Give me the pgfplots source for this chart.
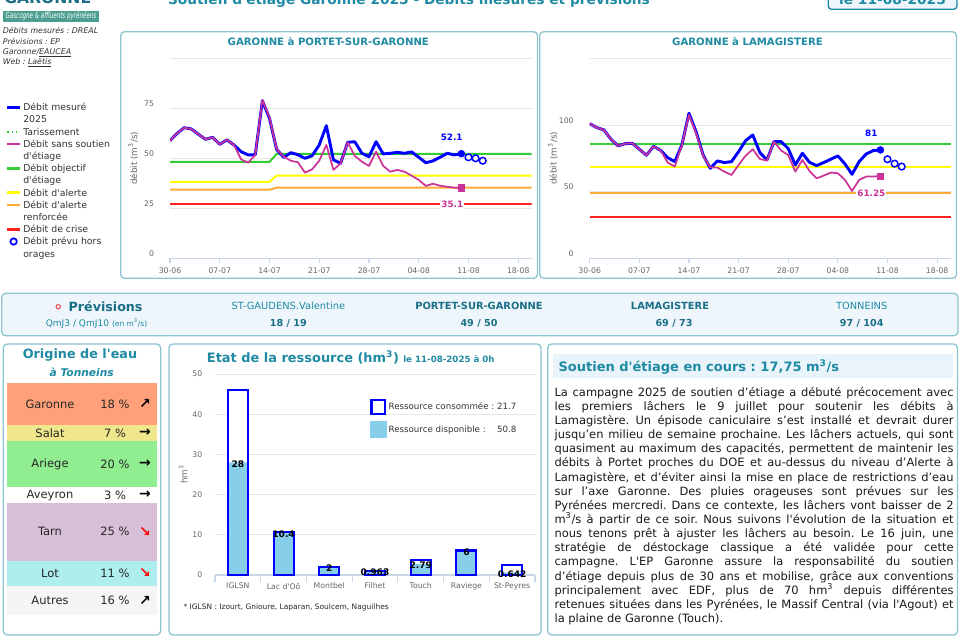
\documentclass[border=0pt]{standalone}
\usepackage{fontspec}
\setmainfont{DejaVu Sans}
\usepackage{graphicx}
\usepackage{pgfplots}
\pgfplotsset{compat=1.18}

\definecolor{titre}{HTML}{1E8AA4}
\definecolor{titre2}{HTML}{1A6F86}
\definecolor{cadre}{HTML}{8CC4D2}
\definecolor{grille}{HTML}{E6E6E6}
\definecolor{axe}{HTML}{CCD6EB}
\definecolor{gris}{HTML}{666666}
\definecolor{texte}{HTML}{333333}
\definecolor{mesure}{HTML}{0000FF}
\definecolor{sans}{HTML}{CC3399}
\definecolor{doe}{HTML}{33CC33}
\definecolor{alerte}{HTML}{FFFF00}
\definecolor{alerter}{HTML}{FFAA33}
\definecolor{crise}{HTML}{FF2222}
\definecolor{dispo}{HTML}{87CEEB}
\definecolor{fondbleu}{HTML}{EEF6FB}
\definecolor{bandeau}{HTML}{E8F3FA}
\definecolor{logo}{HTML}{4C9F8F}
\definecolor{cGaronne}{HTML}{FFA07A}
\definecolor{cSalat}{HTML}{F0E68C}
\definecolor{cAriege}{HTML}{90EE90}
\definecolor{cTarn}{HTML}{D8BFD8}
\definecolor{cLot}{HTML}{AFEEEE}
\definecolor{cAutres}{HTML}{F5F5F5}

\newcommand{\fs}[2]{\fontsize{#1}{#2}\selectfont}
\newcommand{\q}{\textquotesingle}
\newcommand{\cube}{\textsuperscript{3}}
\newcommand{\ligne}[1]{\hbox to \hsize{#1}}

\pgfplotsset{
  debit/.style={
    scale only axis, height=150pt, ymin=0, xmin=0,
    axis x line*=bottom, axis y line*=left,
    x axis line style={draw=axe, line width=0.8pt},
    y axis line style={draw=none},
    ytick style={draw=none},
    xtick style={draw=axe, line width=0.8pt},
    tick align=outside, major tick length=3.5pt,
    xtick={0,7,14,21,28,35,42,49},
    xticklabels={30-06,07-07,14-07,21-07,28-07,04-08,11-08,18-08},
    ymajorgrids, grid style={grille, line width=0.6pt},
    tick label style={font=\fs{5.8}{7}, text=gris},
    yticklabel style={xshift=-5pt, yshift=3.5pt},
    /pgf/number format/assume math mode=true,
    ylabel={débit (m\cube/s)},
    every axis y label/.style={at={(axis description cs:-0.1015,0.5)}, rotate=90, anchor=center, font=\fs{6.6}{8}, text=gris},
  },
  lbl/.style={point meta=explicit symbolic, nodes near coords,
    every node near coord/.append style={font=\bfseries\fs{6.6}{8}, text=#1, anchor=center}},
  seuil/.style={line width=1.5pt, line join=round},
}

\begin{document}
\frenchspacing
\begin{tikzpicture}[x=0.75pt,y=0.75pt]
\useasboundingbox (0,0) rectangle (960,-640);
\fill[white] (0,0) rectangle (960,-640);
\clip (0,0) rectangle (960,-640);

% ---- en-tete
\node[anchor=base west, font=\bfseries\fs{11.7}{13}, text=titre2, inner sep=0pt] at (4,-3) {GARONNE};
\fill[logo] (2.7,-11) rectangle (99.3,-21.7);
\node[text=white, inner sep=0pt] at (51,-16.4) {\resizebox{68pt}{5pt}{\itshape Gascogne \& affluents pyrénéens}};
\node[anchor=base, font=\bfseries\fs{10.3}{12}, text=titre, inner sep=0pt] at (409,-4) {Soutien d\q étiage Garonne 2025 - Débits mesurés et prévisions};
\draw[titre, line width=1pt, fill=fondbleu, rounded corners=2.5pt] (828.3,6) rectangle (957,-9.3);
\node[anchor=base, font=\bfseries\fs{10.3}{12}, text=titre, inner sep=0pt] at (892.5,-4) {le 11-08-2025};

% ---- sources
\begin{scope}[every node/.style={anchor=base west, font=\itshape\fs{5.9}{7}, text=texte, inner sep=0pt}]
\node at (2.5,-33.8) {Débits mesurés : DREAL};
\node at (2.5,-44.1) {Prévisions : EP};
\node at (2.5,-54.4) {Garonne/\underline{EAUCEA}};
\node at (2.5,-64.7) {Web : \underline{Laëtis}};
\end{scope}

% ---- legende des debits
\begin{scope}[every node/.style={anchor=base west, font=\fs{7}{8}, text=texte, inner sep=0pt}]
\draw[mesure, line width=2pt] (7.3,-107.3) -- (20,-107.3);
\node at (23,-110.6) {Débit mesuré};
\node at (23,-122.8) {2025};
\draw[doe, line width=1.2pt, dotted] (7.3,-131.7) -- (20,-131.7);
\node at (23,-135) {Tarissement};
\draw[sans, line width=2pt] (7.3,-143.9) -- (20,-143.9);
\node at (23,-147.2) {Débit sans soutien};
\node at (23,-159.4) {d\q étiage};
\draw[doe, line width=2pt] (7.3,-168.3) -- (20,-168.3);
\node at (23,-171.6) {Débit objectif};
\node at (23,-183.8) {d\q étiage};
\draw[alerte, line width=2pt] (7.3,-192.7) -- (20,-192.7);
\node at (23,-196) {Débit d\q alerte};
\draw[alerter, line width=2pt] (7.3,-204.9) -- (20,-204.9);
\node at (23,-208.2) {Débit d\q alerte};
\node at (23,-220.4) {renforcée};
\draw[crise, line width=2pt] (7.3,-229.3) -- (20,-229.3);
\node at (23,-232.6) {Débit de crise};
\draw[mesure, line width=1.3pt, fill=white] (13.6,-241.5) circle (3.2);
\node at (23,-244.8) {Débit prévu hors};
\node at (23,-257) {orages};
\end{scope}

% ---- cadres
\draw[cadre, line width=1pt, rounded corners=3pt] (120.7,-31.7) rectangle (537.5,-278.3);
\draw[cadre, line width=1pt, rounded corners=3pt] (539.7,-31.7) rectangle (956.5,-278.3);
\draw[cadre, line width=0.9pt, fill=fondbleu, rounded corners=3pt] (1.7,-293.3) rectangle (958,-335.7);
\draw[cadre, line width=1pt, rounded corners=3pt] (3.3,-344) rectangle (160.7,-635);
\draw[cadre, line width=1pt, rounded corners=3pt] (169,-344) rectangle (541,-635);
\draw[cadre, line width=1pt, rounded corners=3pt] (547.7,-344) rectangle (957.5,-635);

\node[font=\bfseries\fs{7.6}{9}, text=titre] at (328.3,-41.7) {GARONNE à PORTET-SUR-GARONNE};
\node[font=\bfseries\fs{7.6}{9}, text=titre] at (747.5,-41.7) {GARONNE à LAMAGISTERE};

% ---- Portet
\begin{axis}[debit, at={(127.5pt,-193.725pt)}, anchor=south west, width=271.3pt,
  xmax=50.9, ymax=100, ytick={0,25,50,75,100}, yticklabels={0,25,50,75,}]
\addplot[crise, seuil] coordinates {(0,27.4) (50.9,27.4)};
\addplot[alerter, seuil] coordinates {(0,34.3) (14,34.3) (15,35.3) (50.9,35.3)};
\addplot[alerte, seuil] coordinates {(0,38.2) (14,38.2) (15,41.3) (50.9,41.3)};
\addplot[doe, seuil] coordinates {(0,48.2) (14,48.2) (15,52.2) (50.9,52.2)};
\addplot[mesure, line width=2.2pt, line join=round] coordinates {
 (0,58.8) (1,62.5) (2,65.3) (3,64.7) (4,62) (5,59.5) (6,60.5) (7,57) (8,59.2) (9,56.7)
 (10,53.3) (11,51.7) (12,51.8) (13,78.8) (14,70) (15,54.5) (16,50.5) (17,52.8) (18,51.8) (19,50)
 (20,51.3) (21,56.7) (22,66.3) (23,49.2) (24,47.5) (25,58) (26,58.3) (27,52.5) (28,50.8) (29,58.3)
 (30,52.2) (31,52.5) (32,53) (33,52.5) (34,53.2) (35,50.5) (36,47.8) (37,48.7) (38,50.5) (39,52.5)
 (40,51.7) (41,52.3)};
\addplot[sans, line width=1.3pt, line join=round] coordinates {
 (0,58.8) (1,62.5) (2,65.3) (3,64.7) (4,62) (5,59.5) (6,60.5) (7,57) (8,59.2) (9,56.7)
 (10,49.5) (11,47.8) (12,51.7) (13,79.2) (14,70.5) (15,54.7) (16,50.8) (17,48.8) (18,48) (19,42.8)
 (20,44.5) (21,48.8) (22,56.7) (23,44.2) (24,47.5) (25,58) (26,51.2) (27,48.3) (28,46.2) (29,53.3)
 (30,46.2) (31,43.3) (32,44.2) (33,43.3) (34,41.3) (35,39.2) (36,36.2) (37,37.3) (38,36.3) (39,35.8)
 (40,35.3) (41,35.3)};
\addplot[mesure, only marks, mark=*, mark size=2.6pt, lbl=mesure,
  every node near coord/.append style={xshift=-7.3pt, yshift=12.3pt}] coordinates {(41,52.3) [52.1]};
\addplot[sans, only marks, mark=square*, mark size=2.3pt, lbl=sans,
  every node near coord/.append style={fill=white, inner sep=0.8pt, xshift=-6.8pt, yshift=-12.5pt}] coordinates {(41,35.3) [35.1]};
\addplot[only marks, mark=*, mark size=2.5pt, mark options={draw=mesure, fill=white, line width=1.1pt}]
  coordinates {(42,50.5) (43,50) (44,48.8)};
\end{axis}

% ---- Lamagistere
\begin{axis}[debit, at={(442.275pt,-193.725pt)}, anchor=south west, width=271.2pt,
  xmax=51, ymax=150, ytick={0,50,100,150}, yticklabels={0,50,100,}]
\addplot[crise, seuil] coordinates {(0,31.2) (51,31.2)};
\addplot[alerter, seuil] coordinates {(0,49.3) (51,49.3)};
\addplot[alerte, seuil] coordinates {(0,68.5) (51,68.5)};
\addplot[doe, seuil] coordinates {(0,85.5) (51,85.5)};
\addplot[mesure, line width=2.2pt, line join=round] coordinates {
 (0,101) (1,98) (2,96.3) (3,89.3) (4,84.3) (5,86) (6,86.3) (7,81.8) (8,77.3) (9,84)
 (10,81) (11,75.5) (12,72.5) (13,85) (14,108.8) (15,95) (16,77.5) (17,67.5) (18,73) (19,71.8)
 (20,72.5) (21,80) (22,88.3) (23,92.5) (24,79.3) (25,73.8) (26,87.5) (27,87.5) (28,82.3) (29,70)
 (30,78.8) (31,72) (32,69.5) (33,71.8) (34,74.3) (35,76.8) (36,70.8) (37,63) (38,72.5) (39,78.3)
 (40,80.8) (41,81.3)};
\addplot[sans, line width=1.3pt, line join=round] coordinates {
 (0,101) (1,98) (2,96.3) (3,89.3) (4,84.3) (5,86) (6,86.3) (7,81.8) (8,77.3) (9,84)
 (10,81) (11,71.8) (12,68.8) (13,85) (14,107.5) (15,93.8) (16,76.8) (17,68.3) (18,68) (19,65)
 (20,62.5) (21,70) (22,77) (23,81.8) (24,74.5) (25,73.3) (26,87.5) (27,80.8) (28,77.5) (29,65)
 (30,73.8) (31,65.5) (32,60) (33,62) (34,64.3) (35,63.8) (36,58.8) (37,50.5) (38,58.8) (39,61.3)
 (40,61.3) (41,61.8)};
\addplot[mesure, only marks, mark=*, mark size=2.6pt, lbl=mesure,
  every node near coord/.append style={xshift=-6.8pt, yshift=12.4pt}] coordinates {(41,81.3) [81]};
\addplot[sans, only marks, mark=square*, mark size=2.3pt, lbl=sans,
  every node near coord/.append style={fill=white, inner sep=0.8pt, xshift=-6.8pt, yshift=-13pt}] coordinates {(41,61.8) [61.25]};
\addplot[only marks, mark=*, mark size=2.5pt, mark options={draw=mesure, fill=white, line width=1.1pt}]
  coordinates {(42,74.3) (43,71) (44,68.8)};
\end{axis}

% ---- bandeau previsions
\draw[sans!60!orange, line width=0.8pt] (58.3,-306.7) circle (2.2);
\node[font=\bfseries\fs{9.5}{11}, text=titre2] at (105.6,-306.7) {Prévisions};
\node[font=\fs{6.8}{8}, text=titre] at (96.5,-323.3) {QmJ3 / QmJ10 {\fs{5.6}{7}(en m\cube/s)}};
\node[font=\fs{7.4}{9}, text=titre] at (288.3,-306.2) {ST-GAUDENS.Valentine};
\node[font=\bfseries\fs{7.2}{9}, text=titre2] at (288.3,-323.3) {18 / 19};
\node[font=\bfseries\fs{7.4}{9}, text=titre2] at (479,-306.2) {PORTET-SUR-GARONNE};
\node[font=\bfseries\fs{7.2}{9}, text=titre2] at (479,-323.3) {49 / 50};
\node[font=\bfseries\fs{7.4}{9}, text=titre2] at (670,-306.2) {LAMAGISTERE};
\node[font=\bfseries\fs{7.2}{9}, text=titre2] at (674,-323.3) {69 / 73};
\node[font=\fs{7.4}{9}, text=titre] at (861.7,-306.2) {TONNEINS};
\node[font=\bfseries\fs{7.2}{9}, text=titre2] at (861.7,-323.3) {97 / 104};

% ---- origine de l'eau
\node[font=\bfseries\fs{9.6}{11}, text=titre] at (80,-355.3) {Origine de l\q eau};
\node[font=\bfseries\itshape\fs{8}{10}, text=titre] at (81.7,-372.3) {à Tonneins};
\fill[cGaronne] (6.7,-383.3) rectangle (156.7,-425);
\fill[cSalat] (6.7,-425) rectangle (156.7,-441);
\fill[cAriege] (6.7,-441) rectangle (156.7,-487.3);
\fill[cTarn] (6.7,-502.7) rectangle (156.7,-560.7);
\fill[cLot] (6.7,-560.7) rectangle (156.7,-586);
\fill[cAutres] (6.7,-586) rectangle (156.7,-615.3);
\begin{scope}[every node/.style={font=\fs{8.6}{10}, text=black!85}]
\node at (50,-404.2) {Garonne}; \node at (115,-404.2) {18 \%};
\node at (50,-433) {Salat};     \node at (115,-433) {7 \%};
\node at (50,-464.2) {Ariege};  \node at (115,-464.2) {20 \%};
\node at (50,-495.2) {Aveyron}; \node at (115,-495.2) {3 \%};
\node at (50,-531.7) {Tarn};    \node at (115,-531.7) {25 \%};
\node at (50,-573) {Lot};       \node at (115,-573) {11 \%};
\node at (50,-600.7) {Autres};  \node at (115,-600.7) {16 \%};
\end{scope}
\begin{scope}[every node/.style={font=\bfseries\fs{10.5}{12}}]
\node at (145,-404.2) {↗};
\node at (145,-433) {→};
\node at (145,-464.2) {→};
\node at (145,-495.2) {→};
\node[text=red] at (145,-531.7) {↘};
\node[text=red] at (145,-573) {↘};
\node at (145,-600.7) {↗};
\end{scope}

% ---- etat de la ressource
\node[anchor=base west, inner sep=0pt, text=titre] at (206.7,-362.5)
  {{\bfseries\fs{9.7}{11}Etat de la ressource (hm\cube)} {\bfseries\fs{6.5}{8}le 11-08-2025 à 0h}};
\begin{axis}[at={(161.25pt,-431.25pt)}, anchor=south west, scale only axis, width=240pt, height=150.75pt,
  xmin=-0.5, xmax=6.5, ymin=0, ymax=50,
  axis x line*=bottom, axis y line*=left,
  x axis line style={draw=axe, line width=0.8pt}, y axis line style={draw=none},
  ytick={0,10,20,30,40,50}, ytick style={draw=none},
  ymajorgrids, grid style={grille, line width=0.6pt},
  xtick={0,...,6}, xticklabels={IGLSN,Lac d\q Oô,Montbel,Filhet,Touch,Raviege,St-Peyres},
  minor xtick={-0.5,0.5,...,6.5}, xtick style={draw=axe, line width=0.8pt},
  tick align=outside, major tick length=0pt, minor tick length=5pt,
  tick label style={font=\fs{5.8}{7}, text=gris},
  xticklabel style={yshift=-2.5pt}, yticklabel style={xshift=-6pt},
  /pgf/number format/assume math mode=true,
  ylabel={hm\cube},
  every axis y label/.style={at={(axis description cs:-0.1,0.5)}, rotate=90, anchor=center, font=\fs{6.6}{8}, text=gris},
  legend style={at={(axis description cs:0.484,0.878)}, anchor=north west, draw=none, fill=none,
    inner sep=0pt, font=\fs{6.5}{8}, text=texte, row sep=5pt, nodes={inner sep=1.5pt}},
  legend cell align=left,
]
\addplot[ybar, bar width=15pt, bar shift=0pt, fill=white, draw=none, forget plot]
  coordinates {(0,46) (1,10.6) (2,2.1) (3,1.1) (4,3.8) (5,6.1) (6,2.5)};
\addplot[ybar, bar width=15pt, bar shift=0pt, fill=dispo, draw=none, forget plot,
  point meta=explicit symbolic, nodes near coords,
  every node near coord/.append style={font=\bfseries\fs{6.8}{8}, text=black, anchor=center, yshift=-1pt}]
  coordinates {(0,28) [28] (1,10.4) [10.4] (2,2) [2] (3,0.963) [0.963] (4,2.79) [2.79] (5,6) [6] (6,0.642) [0.642]};
\addplot[ybar, bar width=15pt, bar shift=0pt, fill=none, draw=mesure, line width=1.6pt, forget plot]
  coordinates {(0,46) (1,10.6) (2,2.1) (3,1.1) (4,3.8) (5,6.1) (6,2.5)};
\addlegendimage{legend image code/.code={\draw[draw=mesure, line width=1.6pt, fill=white] (0.8pt,-5.2pt) rectangle (11.2pt,5.2pt);}}
\addlegendentry{Ressource consommée : 21.7}
\addlegendimage{legend image code/.code={\fill[dispo] (0pt,-6pt) rectangle (12pt,6pt);}}
\addlegendentry{Ressource disponible :\hspace{1.3em}50.8}
\end{axis}
\node[anchor=base west, inner sep=0pt, font=\fs{5.6}{7}, text=black!85] at (183.3,-609.3)
  {* IGLSN : Izourt, Gnioure, Laparan, Soulcem, Naguilhes};

% ---- soutien d'etiage
\fill[bandeau] (553.3,-354) rectangle (953.3,-378.3);
\node[anchor=west, inner sep=0pt, font=\bfseries\fs{9.75}{11}, text=titre] at (558.3,-366.7)
  {Soutien d\q étiage en cours : 17,75 m\cube/s};
\node[anchor=base west, inner sep=0pt, font=\fs{8.6}{10.6}, text=black!90] at (554.3,-396.3) {%
\begin{minipage}[t]{299.25pt}
\frenchspacing
\ligne{La campagne 2025 de soutien d’étiage a débuté précocement avec}
\ligne{les premiers lâchers le 9 juillet pour soutenir les débits à}
\ligne{Lamagistère. Un épisode caniculaire s’est installé et devrait durer}
\ligne{jusqu’en milieu de semaine prochaine. Les lâchers actuels, qui sont}
\ligne{quasiment au maximum des capacités, permettent de maintenir les}
\ligne{débits à Portet proches du DOE et au-dessus du niveau d’Alerte à}
\ligne{Lamagistère, et d’éviter ainsi la mise en place de restrictions d’eau}
\ligne{sur l’axe Garonne. Des pluies orageuses sont prévues sur les}
\ligne{Pyrénées mercredi. Dans ce contexte, les lâchers vont baisser de 2}
\ligne{m\cube/s à partir de ce soir. Nous suivons l\q évolution de la situation et}
\ligne{nous tenons prêt à ajuster les lâchers au besoin. Le 16 juin, une}
\ligne{stratégie de déstockage classique a été validée pour cette}
\ligne{campagne. L\q EP Garonne assure la responsabilité du soutien}
\ligne{d’étiage depuis plus de 30 ans et mobilise, grâce aux conventions}
\ligne{principalement avec EDF, plus de 70 hm\cube{} depuis différentes}
\ligne{retenues situées dans les Pyrénées, le Massif Central (via l\q Agout) et}
\hbox{la plaine de Garonne (Touch).}
\end{minipage}};
\end{tikzpicture}
\end{document}
